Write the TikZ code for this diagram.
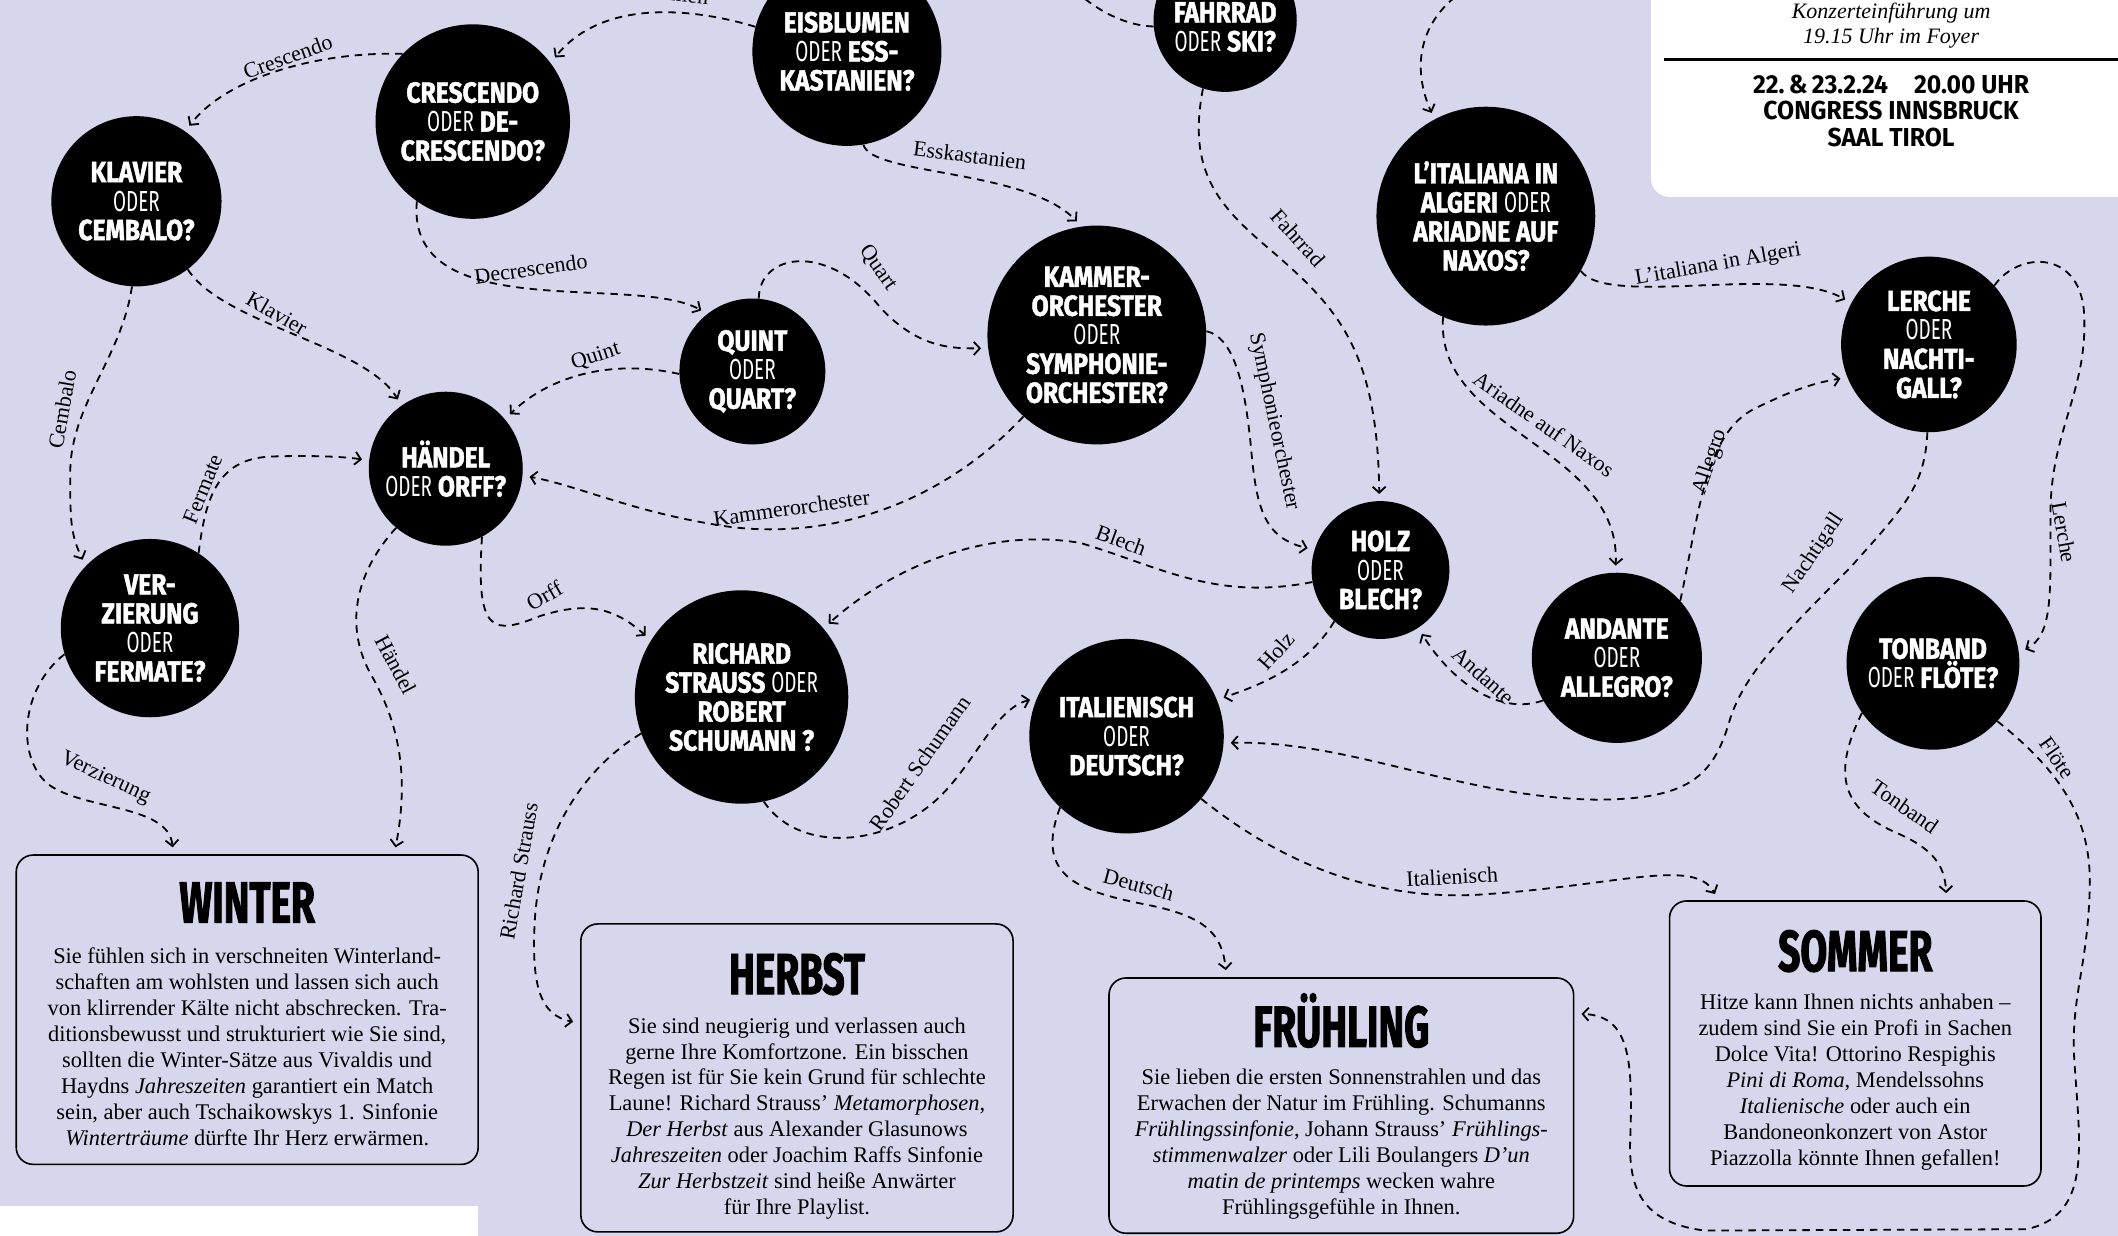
\documentclass[tikz,border=0pt]{standalone}
\usepackage{fontspec}
\setmainfont{Liberation Serif}
\newfontfamily\bubBold{Fira Sans}[FakeStretch=0.85,FakeBold=1.6]
\newfontfamily\oderFont{Fira Sans}[FakeStretch=0.65]
\newfontfamily\ttlFont{Fira Sans}[FakeStretch=0.67,FakeBold=1.6]
\newfontfamily\infoFont{Fira Sans}[FakeStretch=0.95]
\usetikzlibrary{arrows.meta}
\definecolor{bgc}{RGB}{214,214,236}
\newcommand\od{{\oderFont\mdseries ODER}}
\begin{document}
\begin{tikzpicture}[x=1.3508pt,y=-1.3508pt,
  bub/.style={circle, fill=black, text=white, inner sep=0pt, minimum size=#1*2.7016pt, align=center, font=\fontsize{29}{29}\selectfont\bubBold\bfseries},
  bubtext/.style={text=white, inner sep=0pt, align=center, font=\fontsize{29}{29}\selectfont\bubBold\bfseries},
  season/.style 2 args={draw=black, line width=1.6pt, rounded corners=17pt, inner sep=0pt, minimum width=#1*1.3508pt, minimum height=#2*1.3508pt},
  stitle/.style={font=\fontsize{58}{58}\selectfont\ttlFont\bfseries, inner sep=0pt, anchor=base},
  sbody/.style={font=\fontsize{22.4}{25.9}\selectfont, align=center, inner sep=0pt},
  edge/.style={line width=1.8pt, dash pattern=on 7.5pt off 6pt, -{Straight Barb[length=6pt,width=13pt]}, shorten >=7pt},
  edgeplain/.style={line width=1.8pt, dash pattern=on 7.5pt off 6pt},
  lab/.style={font=\fontsize{22}{22}\selectfont, inner sep=0pt},
]
\useasboundingbox (0,0) rectangle (1568,915);
\fill[bgc] (0,0) rectangle (1568,915);

% info box and footer
\node[fill=white, rounded corners=19pt, minimum width=420*1.3508pt, minimum height=220*1.3508pt, anchor=south west, inner sep=0pt] (info) at (1222,146) {};
\node[font=\fontsize{22}{25.6}\selectfont\itshape, align=center, inner sep=0pt] (iTxt) at (1400,19) {Konzerteinführung um\\19.15 Uhr im Foyer};
\draw[line width=2.5pt] (1232,44) -- (1580,44);
\node[font=\fontsize{26}{26.3}\selectfont\infoFont\bfseries, align=center, inner sep=0pt] (iDate) at (1400,82) {22.\,\&\,23.2.24\quad 20.00 UHR\\CONGRESS INNSBRUCK\\SAAL TIROL};
\node[fill=white, anchor=north west, minimum width=354*1.3508pt, minimum height=40*1.3508pt, inner sep=0pt] (foot) at (0,893) {};

% bubbles
\node[bub=70] (eis) at (627,38) {EISBLUMEN\\\od{} ESS-\\KASTANIEN?};
\node[bub=53] (fahr) at (907,15) {};
\node[bubtext] (fahrT) at (907,20) {FAHRRAD\\\od{} SKI?};
\node[bub=72] (cres) at (350,90) {CRESCENDO\\\od{} DE-\\CRESCENDO?};
\node[bub=63] (klav) at (101,149) {KLAVIER\\\od\\CEMBALO?};
\node[bub=54] (quint) at (557,275) {QUINT\\\od\\QUART?};
\node[bub=81] (kam) at (812,248) {KAMMER-\\ORCHESTER\\\od\\SYMPHONIE-\\ORCHESTER?};
\node[bub=57] (haen) at (330,347) {HÄNDEL\\\od{} ORFF?};
\node[bub=66] (verz) at (111,465) {VER-\\ZIERUNG\\\od\\FERMATE?};
\node[bub=79] (rich) at (549,516) {RICHARD\\STRAUSS \od\\ROBERT\\SCHUMANN ?};
\node[bub=72] (italN) at (834,545) {ITALIENISCH\\\od\\DEUTSCH?};
\node[bub=51] (holz) at (1022,422) {HOLZ\\\od\\BLECH?};
\node[bub=81] (algN) at (1100,160) {L’ITALIANA IN\\ALGERI \od\\ARIADNE AUF\\NAXOS?};
\node[bub=65] (lerch) at (1428,255) {LERCHE\\\od\\NACHTI-\\GALL?};
\node[bub=63] (andan) at (1197,487) {ANDANTE\\\od\\ALLEGRO?};
\node[bub=64] (ton) at (1431,491) {TONBAND\\\od{} FLÖTE?};

% season boxes
\node[season={342}{229}] (win) at (183,747.5) {};
\node[stitle] (tWin) at (183,683) {WINTER};
\node[sbody] (bWin) at (183,775) {Sie fühlen sich in verschneiten Winterland-\\schaften am wohlsten und lassen sich auch\\von klirrender Kälte nicht abschrecken. Tra-\\ditionsbewusst und strukturiert wie Sie sind,\\sollten die Winter-Sätze aus Vivaldis und\\Haydns \textit{Jahreszeiten} garantiert ein Match\\sein, aber auch Tschaikowskys 1. Sinfonie\\\textit{Winterträume} dürfte Ihr Herz erwärmen.};

\node[season={320}{228}] (herb) at (590,798) {};
\node[stitle] (tHerb) at (590,736) {HERBST};
\node[sbody] (bHerb) at (590,828) {Sie sind neugierig und verlassen auch\\gerne Ihre Komfortzone. Ein bisschen\\Regen ist für Sie kein Grund für schlechte\\Laune! Richard Strauss’ \textit{Metamorphosen},\\\textit{Der Herbst} aus Alexander Glasunows\\\textit{Jahreszeiten} oder Joachim Raffs Sinfonie\\\textit{Zur Herbstzeit} sind heiße Anwärter\\für Ihre Playlist.};

\node[season={344}{189}] (fruh) at (993,818.5) {};
\node[stitle] (tFruh) at (993,775) {FRÜHLING};
\node[sbody] (bFruh) at (993,847) {Sie lieben die ersten Sonnenstrahlen und das\\Erwachen der Natur im Frühling. Schumanns\\\textit{Frühlingssinfonie}, Johann Strauss’ \textit{Frühlings-}\\\textit{stimmenwalzer} oder Lili Boulangers \textit{D’un}\\\textit{matin de printemps} wecken wahre\\Frühlingsgefühle in Ihnen.};

\node[season={275}{211}] (somm) at (1373.5,772.5) {};
\node[stitle] (tSomm) at (1373.5,719) {SOMMER};
\node[sbody] (bSomm) at (1373.5,801) {Hitze kann Ihnen nichts anhaben –\\zudem sind Sie ein Profi in Sachen\\Dolce Vita! Ottorino Respighis\\\textit{Pini di Roma}, Mendelssohns\\\textit{Italienische} oder auch ein\\Bandoneonkonzert von Astor\\Piazzolla könnte Ihnen gefallen!};

% free ends
\coordinate (offA) at (797,-6);
\coordinate (offB) at (1085,-8);

% connectors
\draw[edge] (eis.165) .. controls (510,5) and (445,0) .. (cres.37);
\node[lab, rotate=-6] (lEis) at (490,-6) {Eisblumen};

\draw[edge] (cres.136) .. controls (230,38) and (165,60) .. (klav.55);
\node[lab, rotate=20] (lCres) at (213,42) {Crescendo};

\draw[edge] (eis.-80) .. controls (645,130) and (760,125) .. (kam.98);
\node[lab, rotate=-7] (lEss) at (718,115) {Esskastanien};

\draw[edge] (cres.-125) .. controls (300,242) and (470,202) .. (quint.128);
\node[lab, rotate=8] (lDec) at (393,199) {Decrescendo};

\draw[edge] (quint.85) .. controls (562,188) and (612,178) .. (652,228) .. controls (680,258) and (705,258) .. (kam.187);
\node[lab, rotate=-55] (lQuart) at (650,198) {Quart};

\draw[edge] (quint.182) .. controls (450,265) and (405,280) .. (haen.40);
\node[lab, rotate=18] (lQuint) at (441,264) {Quint};

\draw[edge] (klav.-53) .. controls (165,240) and (270,255) .. (haen.125);
\node[lab, rotate=-30] (lKlav) at (205,232) {Klavier};

\draw[edge] (klav.-93) .. controls (90,265) and (52,300) .. (52,350) .. controls (52,385) and (52,395) .. (verz.136);
\node[lab, rotate=80] (lCemb) at (46,303) {Cembalo};

\draw[edge] (verz.57) .. controls (152,370) and (160,340) .. (200,338) .. controls (230,337) and (255,338) .. (haen.174);
\node[lab, rotate=68] (lFerm) at (150,362) {Fermate};

\draw[edge] (kam.-132) .. controls (700,370) and (620,400) .. (540,390) .. controls (470,380) and (430,360) .. (haen.-5);
\node[lab, rotate=8] (lKamm) at (586,376) {Kammerorchester};

\draw[edge] (haen.-62) .. controls (352,470) and (365,470) .. (400,456) .. controls (435,445) and (455,450) .. (rich.148);
\node[lab, rotate=30] (lOrff) at (403,441) {Orff};

\draw[edge] (haen.-130) .. controls (262,425) and (255,465) .. (275,500) .. controls (298,540) and (302,580) .. ([xshift=147pt]win.north);
\node[lab, rotate=-62] (lHaen) at (293,492) {Händel};

\draw[edge] (verz.-163) .. controls (15,510) and (12,560) .. (35,580) .. controls (60,600) and (125,595) .. ([xshift=-74pt]win.north);
\node[lab, rotate=-25] (lVerz) at (78,576) {Verzierung};

\draw[edge] (holz.190) .. controls (900,445) and (860,420) .. (800,402) .. controls (730,390) and (660,420) .. (rich.40);
\node[lab, rotate=-20] (lBlech) at (830,400) {Blech};

\draw[edge] (rich.200) .. controls (430,570) and (400,620) .. (396,680) .. controls (393,730) and (400,752) .. ([yshift=55pt]herb.west);
\node[lab, rotate=80] (lRS) at (384,645) {Richard Strauss};

\draw[edge] (rich.-78) .. controls (590,630) and (650,628) .. (690,595) .. controls (720,570) and (735,525) .. (italN.157);
\node[lab, rotate=55] (lRSch) at (681,565) {Robert Schumann};

\draw[edge] (kam.2) .. controls (915,250) and (922,290) .. (926,330) .. controls (930,375) and (935,398) .. (holz.163);
\node[lab, rotate=-78] (lSym) at (943,312) {Symphonieorchester};

\draw[edge] (fahr.-108) .. controls (878,130) and (905,155) .. (944,188) .. controls (990,228) and (1020,260) .. (holz.91);
\node[lab, rotate=-48] (lFahr) at (961,176) {Fahrrad};

\draw[edgeplain] (fahr.185) .. controls (835,19) and (815,10) .. (offA);
\draw[edge] (offB) .. controls (1050,15) and (1045,50) .. (algN.118);

\draw[edge] (algN.-30) .. controls (1190,228) and (1320,195) .. (lerch.152);
\node[lab, rotate=10] (lAlg) at (1272,196) {L’italiana in Algeri};

\draw[edge] (algN.-113) .. controls (1062,320) and (1200,330) .. (andan.91);
\node[lab, rotate=-35] (lAri) at (1143,314) {Ariadne auf Naxos};

\draw[edge] (andan.42) .. controls (1258,380) and (1262,320) .. (1300,302) .. controls (1325,290) and (1340,284) .. (lerch.202);
\node[lab, rotate=72] (lAlle) at (1266,342) {Allegro};

\draw[edge] (andan.210) .. controls (1110,530) and (1075,505) .. (holz.-57);
\node[lab, rotate=-42] (lAnd) at (1098,500) {Andante};

\draw[edge] (holz.228) .. controls (970,490) and (940,505) .. (italN.22);
\node[lab, rotate=48] (lHolz) at (945,482) {Holz};

\draw[edge] (lerch.-91) .. controls (1425,360) and (1410,375) .. (1370,420) .. controls (1320,470) and (1290,500) .. (1280,535) .. controls (1268,575) and (1250,592) .. (1181,592) .. controls (1080,590) and (1000,548) .. (italN.-4);
\node[lab, rotate=56] (lNacht) at (1343,410) {Nachtigall};

\draw[edge] (lerch.42) .. controls (1495,185) and (1542,185) .. (1543,235) .. controls (1545,290) and (1518,320) .. (1518,380) .. controls (1518,440) and (1520,470) .. (ton.7);
\node[lab, rotate=-80] (lLer) at (1528,394) {Lerche};

\draw[edge] (ton.215) .. controls (1355,575) and (1365,600) .. (1405,617) .. controls (1430,628) and (1440,640) .. ([xshift=91pt]somm.north);
\node[lab, rotate=-35] (lTon) at (1410,597) {Tonband};

\draw[edge] (ton.-42) .. controls (1530,575) and (1549,610) .. (1547,660) .. controls (1545,720) and (1532,740) .. (1536,790) .. controls (1540,850) and (1548,900) .. (1500,910) -- (1262,911) .. controls (1215,905) and (1205,880) .. (1207,840) .. controls (1209,780) and (1205,752) .. ([yshift=92pt]fruh.east);
\node[lab, rotate=-55] (lFlo) at (1523,561) {Flöte};

\draw[edge] (italN.-133) .. controls (765,650) and (800,660) .. (850,670) .. controls (890,678) and (905,690) .. ([xshift=-115pt]fruh.north);
\node[lab, rotate=-15] (lDeu) at (843,655) {Deutsch};

\draw[edge] (italN.-40) .. controls (950,640) and (1020,668) .. (1100,662) .. controls (1200,655) and (1255,635) .. ([xshift=-137pt]somm.north);
\node[lab, rotate=3] (lIta) at (1075,649) {Italienisch};
\end{tikzpicture}
\end{document}
